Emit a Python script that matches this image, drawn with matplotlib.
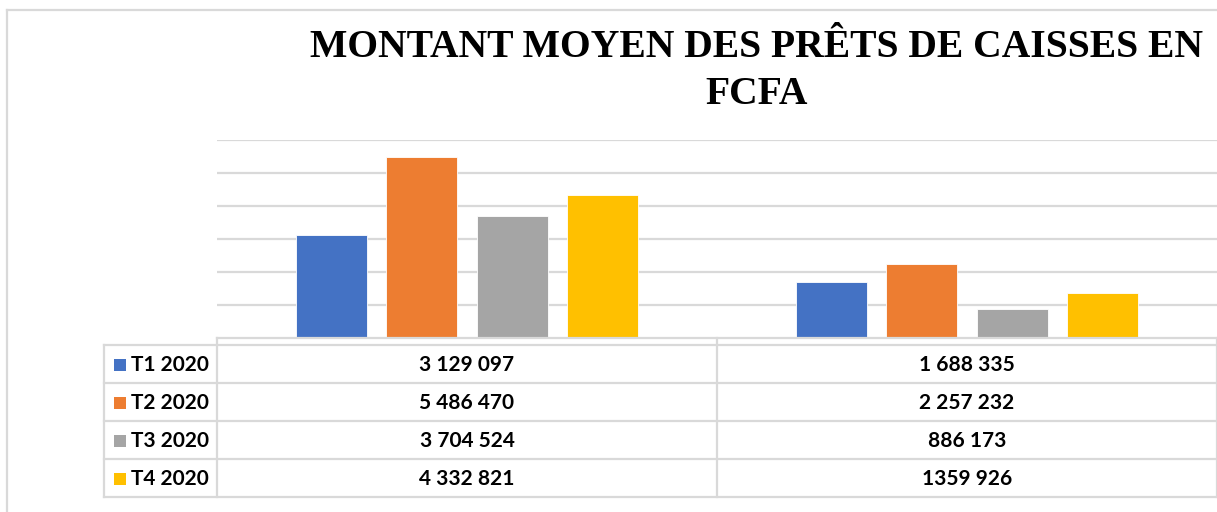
import matplotlib
matplotlib.use("Agg")
import matplotlib.pyplot as plt
from matplotlib.lines import Line2D
from matplotlib.patches import Rectangle

# ---------------- data ----------------
series = ["T1 2020", "T2 2020", "T3 2020", "T4 2020"]
t1_2020 = [3129097, 1688335]
t2_2020 = [5486470, 2257232]
t3_2020 = [3704524, 886173]
t4_2020 = [4332821, 1359926]
cell_text = [
    ["3 129 097", "1 688 335"],
    ["5 486 470", "2 257 232"],
    ["3 704 524", "886 173"],
    ["4 332 821", "1359 926"],
]
colors = ["#4472C4", "#ED7D31", "#A5A5A5", "#FFC000"]
title_lines = ["MONTANT MOYEN DES PRÊTS DE CAISSES EN", "FCFA"]
y_max = 6_000_000
y_step = 1_000_000

values = [t1_2020, t2_2020, t3_2020, t4_2020]
n_cat = len(t1_2020)

# ---------------- figure ----------------
W, H = 1217, 512
fig = plt.figure(figsize=(W / 100, H / 100), dpi=100)
fig.patch.set_facecolor("white")

def fx(x):
    return x / W

def fy(y):
    return 1 - y / H

GRID = "#d9d9d9"

# chart frame
fig.add_artist(Line2D([fx(7), fx(1217)], [fy(10), fy(10)], color=GRID, lw=1.6))
fig.add_artist(Line2D([fx(7), fx(7)], [fy(10), fy(512)], color=GRID, lw=1.6))

# plot area
ax_left, ax_right, ax_bottom, ax_top = 217, 1217, 338, 140
ax = fig.add_axes([fx(ax_left), fy(ax_bottom), fx(ax_right - ax_left), (ax_bottom - ax_top) / H])
ax.set_xlim(-0.5, n_cat - 0.5)
ax.set_ylim(0, y_max)
for s in ax.spines.values():
    s.set_visible(False)
ax.set_xticks([])
ax.set_yticks([y_step * k for k in range(1, int(y_max / y_step) + 1)])
ax.tick_params(left=False, labelleft=False)
ax.yaxis.grid(True, color=GRID, lw=1.6)
ax.set_axisbelow(True)
ax.patch.set_alpha(0)

bar_w = 0.142
step = 0.181
for i, (vals, c) in enumerate(zip(values, colors)):
    off = (i - (len(values) - 1) / 2) * step
    ax.bar([k + off for k in range(n_cat)], vals, width=bar_w, color=c,
           edgecolor="white", linewidth=0.6, zorder=3)

# title
title_font = dict(family="Liberation Serif", weight="bold", size=28.5, color="black")
fig.text(fx(757), fy(57), title_lines[0], ha="center", va="baseline", **title_font)
fig.text(fx(757), fy(104), title_lines[1], ha="center", va="baseline", **title_font)

# data table
table_left = 104
col_edges = [217, 717, 1217]
row_edges = [345, 383, 421, 459, 497]

def hline(y, x0, x1):
    fig.add_artist(Line2D([fx(x0), fx(x1)], [fy(y), fy(y)], color=GRID, lw=1.6))

def vline(x, y0, y1):
    fig.add_artist(Line2D([fx(x), fx(x)], [fy(y0), fy(y1)], color=GRID, lw=1.6))

hline(338, col_edges[0], col_edges[-1])
for y in row_edges:
    hline(y, table_left, col_edges[-1])
vline(table_left, row_edges[0], row_edges[-1])
for x in col_edges:
    vline(x, 338, row_edges[-1])

tfont = dict(family=["Lato", "DejaVu Sans"], weight="bold", size=15, color="black")
for r, name in enumerate(series):
    yc = (row_edges[r] + row_edges[r + 1]) / 2 + 1
    fig.add_artist(Rectangle((fx(114), fy(yc + 6)), 12 / W, 12 / H,
                             facecolor=colors[r], edgecolor="none",
                             transform=fig.transFigure))
    fig.text(fx(131), fy(yc), name, ha="left", va="center", **tfont)
    for c in range(n_cat):
        xc = (col_edges[c] + col_edges[c + 1]) / 2
        fig.text(fx(xc), fy(yc), cell_text[r][c], ha="center", va="center", **tfont)

fig.savefig("out.png", dpi=100, facecolor="white")
